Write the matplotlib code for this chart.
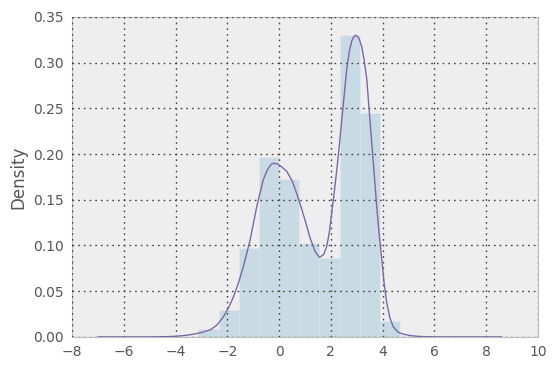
import numpy as np
from matplotlib import pyplot as plt

# histogram (density)
bin_edges = [-3.12, -2.34, -1.56, -0.78, 0.0, 0.78, 1.56, 2.34, 3.12, 3.90, 4.68]
bin_heights = [0.0084, 0.0295, 0.0977, 0.1966, 0.1725, 0.1028, 0.0861, 0.330, 0.2447, 0.0178]

# kde curve points
kde_x = [-7.0, -6.0, -5.0, -4.5, -4.2, -3.9, -3.6, -3.3, -3.0, -2.66, -2.4, -2.15,
         -1.95, -1.76, -1.57, -1.38, -1.12, -0.86, -0.61, -0.45, -0.30, -0.20,
         -0.05, 0.10, 0.30, 0.50, 0.68, 0.85, 1.0, 1.20, 1.40, 1.56, 1.72, 1.84,
         1.94, 2.03, 2.13, 2.23, 2.33, 2.42, 2.52, 2.61, 2.71, 2.81, 2.90, 2.97,
         3.08, 3.19, 3.29, 3.39, 3.48, 3.58, 3.68, 3.77, 3.87, 3.97, 4.06, 4.16,
         4.28, 4.41, 4.60, 4.80, 5.06, 5.4, 6.0, 7.0, 8.6]
kde_y = [0.0, 0.0, 0.0, 0.0002, 0.0004, 0.0009, 0.0017, 0.0030, 0.0048, 0.0077,
         0.013, 0.022, 0.032, 0.044, 0.059, 0.077, 0.106, 0.143, 0.172, 0.183,
         0.189, 0.190, 0.189, 0.186, 0.181, 0.171, 0.157, 0.142, 0.128, 0.108,
         0.093, 0.087, 0.090, 0.099, 0.114, 0.135, 0.158, 0.183, 0.210, 0.237,
         0.266, 0.292, 0.312, 0.324, 0.329, 0.330, 0.327, 0.318, 0.302, 0.281,
         0.248, 0.212, 0.176, 0.143, 0.111, 0.084, 0.058, 0.037, 0.021, 0.011,
         0.005, 0.003, 0.0015, 0.0005, 0.0, 0.0, 0.0]

fig = plt.figure(figsize=(5.54, 3.69), dpi=100)
ax = fig.add_axes([0.130, 0.087, 0.841, 0.867])
ax.set_facecolor('#EEEEEE')

widths = np.diff(bin_edges)
ax.bar(bin_edges[:-1], bin_heights, width=widths, align='edge',
       color='#348ABD', alpha=0.2, edgecolor='white', linewidth=0.5, zorder=1)
ax.plot(kde_x, kde_y, color='#7A68A6', linewidth=1.0, zorder=3)

ax.set_xlim(-8, 10)
ax.set_ylim(0, 0.35)
ax.set_xticks(range(-8, 11, 2))
ax.set_xticklabels(['\u22128', '\u22126', '\u22124', '\u22122', '0', '2', '4', '6', '8', '10'])
ax.set_yticks(np.arange(0, 0.351, 0.05))
ax.set_yticklabels(['%.2f' % v for v in np.arange(0, 0.351, 0.05)])

ax.grid(True, color='#444444', linestyle=(0, (1.2, 2.9)), linewidth=1.0, zorder=2)
ax.set_axisbelow(False)
for s in ax.spines.values():
    s.set_color('#BCBCBC')
ax.tick_params(length=0, labelsize=10, colors='#555555', pad=6)
ax.set_ylabel('Density', fontsize=12, color='#555555')

plt.savefig('out.png', dpi=100)
